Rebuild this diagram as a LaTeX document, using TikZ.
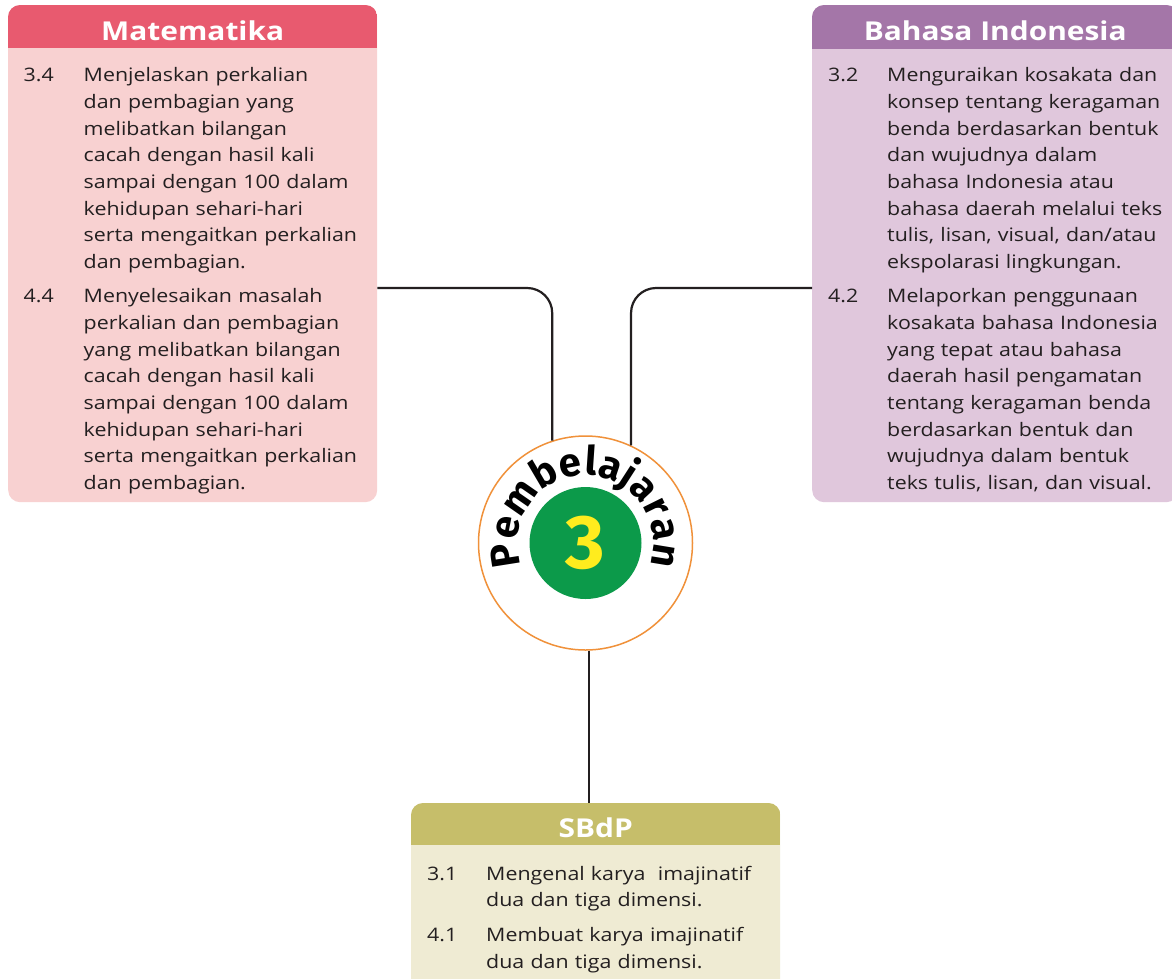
\documentclass[tikz,border=0pt]{standalone}
\usepackage{fontspec}
\setmainfont{Open Sans}[FakeStretch=1.15]
\newfontfamily\circfont{Fira Sans}
\usetikzlibrary{decorations.text,calc}
\definecolor{matH}{HTML}{E85A6F}
\definecolor{matB}{HTML}{F8D1D1}
\definecolor{bahH}{HTML}{A476A8}
\definecolor{bahB}{HTML}{E0C7DC}
\definecolor{sbH}{HTML}{C6BE6A}
\definecolor{sbB}{HTML}{EFEBD3}
\definecolor{ink}{HTML}{231F20}
\definecolor{ringC}{HTML}{F0913A}
\definecolor{greenC}{HTML}{0C9A4A}
\definecolor{yellowC}{HTML}{FFEC1E}
\begin{document}
\begin{tikzpicture}[x=1pt,y=1pt,
  panel/.style={rectangle, rounded corners=12, inner sep=0, anchor=north west},
  headtxt/.style={anchor=base, inner sep=0, text=white, font=\bfseries\fontsize{26}{26}\selectfont},
  num/.style={anchor=base west, inner sep=0, text=ink, font=\fontsize{18.6}{26.7}\selectfont},
  item/.style={anchor=base west, inner sep=0, text=ink, text width=300, align=left, font=\fontsize{18.6}{26.7}\selectfont},
  conn/.style={draw=ink, line width=2.2}
]
\clip (0,0) rectangle (1172,-978);
\fill[white] (0,0) rectangle (1172,-978);

% Matematika
\node[panel, fill=matB, minimum width=369, minimum height=497] (mat) at (8,-5) {};
\begin{scope}
  \clip[rounded corners=12] (mat.north west) rectangle (mat.south east);
  \fill[matH] (mat.north west) rectangle ([yshift=-43]mat.north east);
\end{scope}
\node[headtxt] (matT) at (mat.north |- 0,-40) {Matematika};
\node[num] (m34n) at (23.5,-81.7) {3.4};
\node[item] (m34) at (83.5,-81.7) {Menjelaskan perkalian\\dan pembagian yang\\melibatkan bilangan\\cacah dengan hasil kali\\sampai dengan 100 dalam\\kehidupan sehari-hari\\serta mengaitkan perkalian\\dan pembagian.};
\node[num] (m44n) at (23.5,-302.7) {4.4};
\node[item] (m44) at (83.5,-302.7) {Menyelesaikan masalah\\perkalian dan pembagian\\yang melibatkan bilangan\\cacah dengan hasil kali\\sampai dengan 100 dalam\\kehidupan sehari-hari\\serta mengaitkan perkalian\\dan pembagian.};

% Bahasa Indonesia
\node[panel, fill=bahB, minimum width=366, minimum height=497] (bah) at (812,-5) {};
\begin{scope}
  \clip[rounded corners=12] (bah.north west) rectangle (bah.south east);
  \fill[bahH] (bah.north west) rectangle ([yshift=-44]bah.north east);
\end{scope}
\node[headtxt] (bahT) at (bah.north |- 0,-40) {Bahasa Indonesia};
\node[num] (b32n) at (828,-81.7) {3.2};
\node[item] (b32) at (887,-81.7) {Menguraikan kosakata dan\\konsep tentang keragaman\\benda berdasarkan bentuk\\dan wujudnya dalam\\bahasa Indonesia atau\\bahasa daerah melalui teks\\tulis, lisan, visual, dan/atau\\ekspolarasi lingkungan.};
\node[num] (b42n) at (828,-302.7) {4.2};
\node[item] (b42) at (887,-302.7) {Melaporkan penggunaan\\kosakata bahasa Indonesia\\yang tepat atau bahasa\\daerah hasil pengamatan\\tentang keragaman benda\\berdasarkan bentuk dan\\wujudnya dalam bentuk\\teks tulis, lisan, dan visual.};

% SBdP
\node[panel, fill=sbB, minimum width=369, minimum height=200] (sb) at (411,-803) {};
\begin{scope}
  \clip[rounded corners=12] (sb.north west) rectangle (sb.south east);
  \fill[sbH] (sb.north west) rectangle ([yshift=-42]sb.north east);
\end{scope}
\node[headtxt] (sbT) at (sb.north |- 0,-837) {SBdP};
\node[num] (s31n) at (427,-880) {3.1};
\node[item] (s31) at (486,-880) {Mengenal karya\ \ imajinatif\\dua dan tiga dimensi.};
\node[num] (s41n) at (427,-941.7) {4.1};
\node[item] (s41) at (486,-941.7) {Membuat karya imajinatif\\dua dan tiga dimensi.};

% hub
\node[circle, draw=ringC, fill=white, line width=1.5, minimum size=214, inner sep=0] (hub) at (585.5,-543) {};
\node[circle, fill=greenC, minimum size=112, inner sep=0, text=yellowC, font=\circfont\bfseries\fontsize{76}{76}\selectfont] (core) at (585.5,-543) {3};
\path[decorate, decoration={text along path, text={|\circfont\bfseries\fontsize{40}{40}\selectfont|Pembelajaran}, text align={fit to path}}]
  ($(hub.center)+(199:68)$) arc[start angle=199, end angle=-19, radius=68];

% connectors
\draw[conn, rounded corners=25] ([yshift=-283]mat.north east) -| (hub.108);
\draw[conn, rounded corners=25] ([yshift=-283]bah.north west) -| (hub.65.5);
\draw[conn] (hub.272.5) -- (hub.272.5 |- sb.north);
\end{tikzpicture}
\end{document}
